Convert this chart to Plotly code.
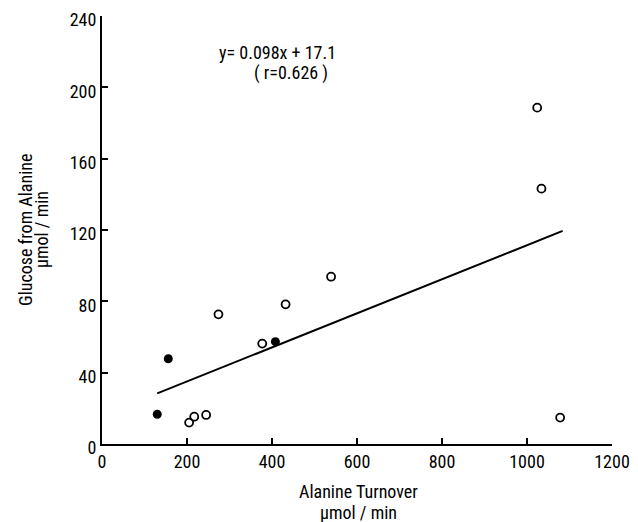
import plotly.graph_objects as go

# Open circles
open_x = [205, 217, 245, 274, 377, 432, 539, 1024, 1034, 1078]
open_y = [12, 15.3, 16.3, 72.7, 56.3, 78.3, 93.8, 188.6, 143.2, 14.8]
# Filled circles
filled_x = [130, 156, 408]
filled_y = [16.7, 47.8, 57.4]
# Regression line (as drawn)
fit_x = [130, 1084]
fit_y = [28.4, 119.5]

x_ticks = [0, 200, 400, 600, 800, 1000, 1200]
y_ticks = [0, 40, 80, 120, 160, 200, 240]

FONT = "Roboto Condensed, DejaVu Sans Condensed, sans-serif"
FS = 18


def txt(x, y, s, angle=0, xa="center"):
    fig.add_annotation(x=x, y=y, xref="paper", yref="paper", text=s,
                       showarrow=False, textangle=angle,
                       xanchor=xa, yanchor="middle",
                       font=dict(family=FONT, size=FS, color="black"))


fig = go.Figure()
fig.add_trace(go.Scatter(x=fit_x, y=fit_y, mode="lines",
                         line=dict(color="black", width=2), showlegend=False))
fig.add_trace(go.Scatter(x=open_x, y=open_y, mode="markers",
                         marker=dict(symbol="circle-open", size=8, color="black",
                                     line=dict(width=1.8, color="black")),
                         showlegend=False))
fig.add_trace(go.Scatter(x=filled_x, y=filled_y, mode="markers",
                         marker=dict(symbol="circle", size=9, color="black"),
                         showlegend=False))

# Equation
txt(0.2255, 0.9136, "y= 0.098x + 17.1", xa="left")
txt(0.294, 0.8668, "( r=0.626 )", xa="left")

# Axis titles
txt(0.502, -0.1121, "Alanine Turnover")
txt(0.502, -0.1612, "µmol / min")
txt(-0.151, 0.5, "Glucose from Alanine", angle=-90)
txt(-0.1196, 0.5, "µmol / min", angle=-90)

fig.update_xaxes(range=[0, 1200], tickvals=x_ticks, ticktext=[str(v) for v in x_ticks],
                 showline=True, linecolor="black", linewidth=2, mirror=False,
                 ticks="inside", ticklen=6, tickwidth=2, tickcolor="black",
                 showgrid=False, zeroline=False, automargin=False,
                 ticklabeloverflow="allow",
                 tickfont=dict(family=FONT, size=FS, color="black"))
fig.update_yaxes(range=[0, 240], tickvals=y_ticks, ticktext=[str(v) for v in y_ticks],
                 showline=True, linecolor="black", linewidth=2, mirror=False,
                 ticks="inside", ticklen=6, tickwidth=2, tickcolor="black",
                 showgrid=False, zeroline=False, automargin=False,
                 ticklabeloverflow="allow", ticklabelshift=4,
                 tickfont=dict(family=FONT, size=FS, color="black"))

# The page body adds an 8px offset, so the figure is 8px smaller on each axis
fig.update_layout(width=630, height=514,
                  margin=dict(l=94, r=26, t=8, b=78),
                  plot_bgcolor="white", paper_bgcolor="white")

fig.write_html("out.html")
